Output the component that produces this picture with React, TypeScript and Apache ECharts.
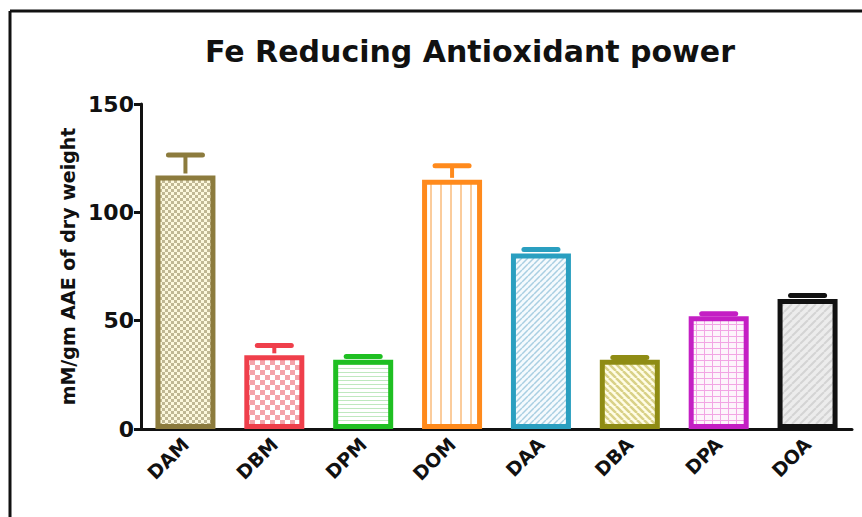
import React, { useEffect, useRef } from "react";
import * as echarts from "echarts";

const categories = ["DAM", "DBM", "DPM", "DOM", "DAA", "DBA", "DPA", "DOA"];
const means = [117, 34, 32, 115, 81, 32, 52, 60];
const errors = [9.5, 4.5, 1.5, 6.5, 1.8, 1, 1.2, 1.6];
const outlineColors = ["#8c7b3d", "#ef3f4b", "#1fbf22", "#ff8a1c", "#2a9fc0", "#8f8c14", "#c41fc4", "#111111"];
const yTicks = [0, 50, 100, 150];

type Painter = (ctx: CanvasRenderingContext2D, w: number, h: number) => void;

function makePattern(w: number, h: number, bg: string, paint: Painter) {
  const c = document.createElement("canvas");
  c.width = w;
  c.height = h;
  const ctx = c.getContext("2d") as CanvasRenderingContext2D;
  ctx.fillStyle = bg;
  ctx.fillRect(0, 0, w, h);
  paint(ctx, w, h);
  return { image: c, repeat: "repeat" as const };
}

function checker(color: string, size: number): Painter {
  return (ctx) => {
    ctx.fillStyle = color;
    ctx.fillRect(0, 0, size, size);
    ctx.fillRect(size, size, size, size);
  };
}

function diagonal(color: string, width: number, up: boolean): Painter {
  return (ctx, w, h) => {
    ctx.strokeStyle = color;
    ctx.lineWidth = width;
    ctx.beginPath();
    for (let k = -1; k <= 1; k++) {
      if (up) {
        ctx.moveTo(k * w, h);
        ctx.lineTo(k * w + w, 0);
      } else {
        ctx.moveTo(k * w, 0);
        ctx.lineTo(k * w + w, h);
      }
    }
    ctx.stroke();
  };
}

function buildFills() {
  return [
    makePattern(6, 6, "#fcf8dc", checker("#c0b894", 3)),
    makePattern(10, 10, "#ffffff", checker("#f4a3aa", 5)),
    makePattern(4, 4, "#ffffff", (ctx) => {
      ctx.fillStyle = "#bfe8bf";
      ctx.fillRect(0, 0, 4, 1);
    }),
    makePattern(10, 10, "#ffffff", (ctx) => {
      ctx.fillStyle = "#fbcc9c";
      ctx.fillRect(0, 0, 2, 10);
    }),
    makePattern(6, 6, "#f5fafd", diagonal("#a9cfe2", 1.5, true)),
    makePattern(7, 7, "#fffde6", diagonal("#d9d187", 2.5, false)),
    makePattern(8, 6, "#fdf4fb", (ctx) => {
      ctx.fillStyle = "#f2a5e4";
      ctx.fillRect(0, 0, 1, 6);
      ctx.fillRect(0, 0, 8, 1);
    }),
    makePattern(8, 8, "#ececec", diagonal("#d4d4d4", 2, true)),
  ];
}

export default function App() {
  const ref = useRef<HTMLDivElement>(null);

  useEffect(() => {
    if (!ref.current) return;
    const chart = echarts.init(ref.current, undefined, { renderer: "svg" });
    const fills = buildFills();
    const font = "'DejaVu Sans', Verdana, sans-serif";

    const barData = means.map((v, i) => ({
      value: v,
      itemStyle: {
        color: fills[i] as any,
        borderColor: outlineColors[i],
        borderWidth: 5,
      },
    }));

    const errData = means.map((v, i) => [i, v, v + errors[i]]);

    chart.setOption({
      animation: false,
      backgroundColor: "#ffffff",
      title: {
        text: "Fe Reducing Antioxidant power",
        left: 465,
        top: 31,
        textAlign: "center",
        textStyle: { fontFamily: font, fontWeight: "bold", fontSize: 30, color: "#111" },
      },
      grid: { left: 141, right: 10, top: 104, bottom: 88, containLabel: false },
      xAxis: {
        type: "category",
        data: categories,
        axisLine: { lineStyle: { color: "#111", width: 3 } },
        axisTick: { alignWithLabel: true, length: 7, lineStyle: { color: "#111", width: 3 } },
        axisLabel: {
          rotate: 45,
          margin: 12,
          fontFamily: font,
          fontWeight: "bold",
          fontSize: 19,
          color: "#111",
        },
      },
      yAxis: {
        type: "value",
        min: yTicks[0],
        max: yTicks[yTicks.length - 1],
        interval: 50,
        name: "mM/gm AAE of dry weight",
        nameLocation: "middle",
        nameRotate: 90,
        nameGap: 63,
        nameTextStyle: { fontFamily: font, fontWeight: "bold", fontSize: 19, color: "#111" },
        splitLine: { show: false },
        axisLine: { show: true, lineStyle: { color: "#111", width: 3 } },
        axisTick: { show: true, length: 7, lineStyle: { color: "#111", width: 3 } },
        axisLabel: { fontFamily: font, fontWeight: "bold", fontSize: 22, color: "#111", margin: 7 },
      },
      series: [
        {
          type: "bar",
          data: barData,
          barWidth: 60,
          z: 2,
        },
        {
          type: "custom",
          data: errData,
          encode: { x: 0, y: [1, 2] },
          z: 3,
          renderItem: (params: any, api: any) => {
            const i = api.value(0);
            const base = api.coord([i, api.value(1)]);
            const top = api.coord([i, api.value(2)]);
            const color = outlineColors[params.dataIndex];
            const half = 17;
            return {
              type: "group",
              children: [
                {
                  type: "line",
                  shape: { x1: base[0], y1: base[1] - 2, x2: top[0], y2: top[1] },
                  style: { stroke: color, lineWidth: 4 },
                },
                {
                  type: "line",
                  shape: { x1: top[0] - half, y1: top[1], x2: top[0] + half, y2: top[1] },
                  style: { stroke: color, lineWidth: 5, lineCap: "round" },
                },
              ],
            };
          },
        },
      ],
      graphic: [
        {
          type: "line",
          shape: { x1: 10, y1: 11, x2: 862, y2: 11 },
          style: { stroke: "#111", lineWidth: 3 },
        },
        {
          type: "line",
          shape: { x1: 10, y1: 11, x2: 10, y2: 517 },
          style: { stroke: "#111", lineWidth: 3 },
        },
      ],
    });

    return () => chart.dispose();
  }, []);

  return (
    <div
      ref={ref}
      style={{ position: "absolute", left: 0, top: 0, width: 862, height: 517 }}
    />
  );
}
